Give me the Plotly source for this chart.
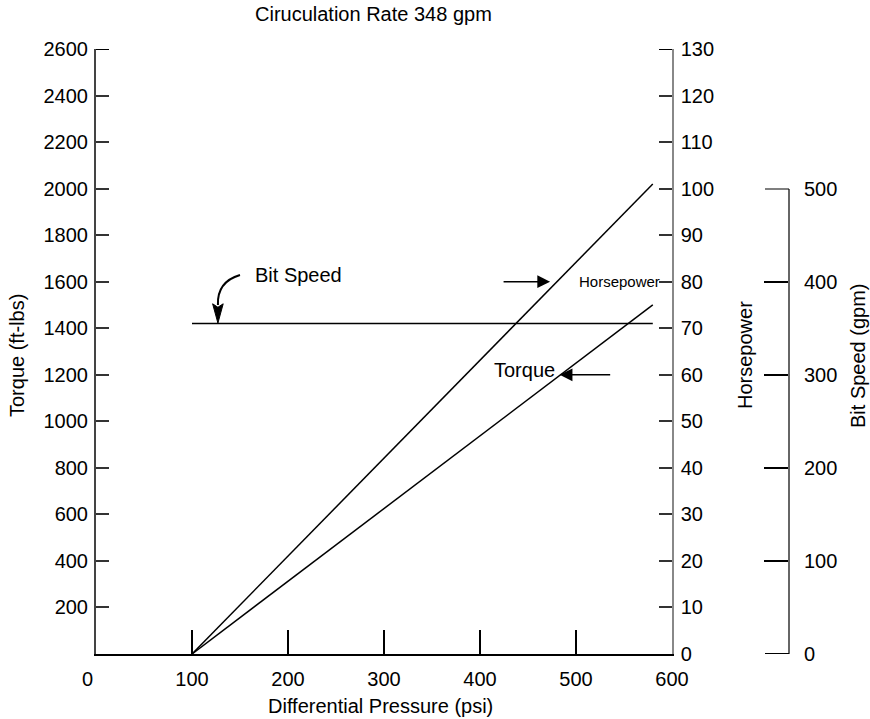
import plotly.graph_objects as go

# Operating curves vs differential pressure
pressure = [100, 580]          # psi
torque = [0, 1500]             # ft-lbs
horsepower = [0, 101]          # hp
bit_speed = [355, 355]         # gpm

torque_ticks = [200, 400, 600, 800, 1000, 1200, 1400, 1600, 1800, 2000, 2200, 2400, 2600]
hp_ticks = [0, 10, 20, 30, 40, 50, 60, 70, 80, 90, 100, 110, 120, 130]
speed_ticks = [0, 100, 200, 300, 400, 500]
pressure_ticks = [0, 100, 200, 300, 400, 500, 600]
pressure_labels = ["0\u00a0\u00a0\u00a0", "100", "200", "300", "400", "500", "600"]

FONT = "Liberation Sans, Arial, Helvetica, sans-serif"
FS = 20
W, H = 870, 719
ML, MR, MT, MB = 96, 40, 49, 65
PW = W - ML - MR
X_END = 576 / PW
Y3_POS = 693 / PW
PX_PER_PSI = 576 / 600

fig = go.Figure()
fig.add_trace(go.Scatter(x=pressure, y=torque, mode="lines",
                         line=dict(color="black", width=1.5), yaxis="y"))
fig.add_trace(go.Scatter(x=pressure, y=horsepower, mode="lines",
                         line=dict(color="black", width=1.5), yaxis="y2"))
fig.add_trace(go.Scatter(x=pressure, y=bit_speed, mode="lines",
                         line=dict(color="black", width=1.5), yaxis="y3"))

tickfont = dict(family=FONT, size=FS, color="black")

fig.update_layout(
    width=W, height=H,
    margin=dict(l=ML, r=MR, t=MT, b=MB),
    paper_bgcolor="white", plot_bgcolor="rgba(0,0,0,0)",
    showlegend=False,
    font=dict(family=FONT, color="black"),
    xaxis=dict(
        domain=[0, X_END], range=[0, 600],
        tickvals=pressure_ticks, ticktext=pressure_labels, ticks="inside",
        ticklen=24, tickwidth=1.5, tickcolor="black", showline=True,
        linecolor="black", linewidth=2, showgrid=False, zeroline=False,
        tickfont=tickfont, ticklabelstandoff=6, anchor="y",
    ),
    yaxis=dict(
        range=[0, 2600], tickvals=torque_ticks, ticks="inside", ticklen=13,
        tickwidth=1.5, tickcolor="#333", showline=True, linecolor="#444",
        linewidth=2, showgrid=False, zeroline=False, tickfont=tickfont,
        ticklabelstandoff=2,
    ),
    yaxis2=dict(
        range=[0, 130], tickvals=hp_ticks, ticks="inside", ticklen=13,
        tickwidth=1.5, tickcolor="#333", showline=True, linecolor="#888",
        linewidth=1.5, showgrid=False, zeroline=False, tickfont=tickfont,
        overlaying="y", side="right", anchor="x", ticklabelstandoff=3,
    ),
    yaxis3=dict(
        domain=[0, 500 / 650], range=[0, 500], tickvals=speed_ticks,
        ticks="inside", ticklen=24, tickwidth=1.5, tickcolor="black",
        showline=True, linecolor="#666", linewidth=2, showgrid=False,
        zeroline=False, tickfont=tickfont, side="right", anchor="free",
        position=Y3_POS, ticklabelstandoff=10,
    ),
)

# Inside ticks that sit at the ends of an axis range are dropped by plotly;
# draw those end ticks explicitly.
tick_line = dict(color="black", width=2)
fig.add_shape(type="line", xref="x", yref="y", x0=0, x1=13 / PX_PER_PSI,
              y0=torque_ticks[-1], y1=torque_ticks[-1], line=tick_line)
fig.add_shape(type="line", xref="x", yref="y2", x0=600 - 13 / PX_PER_PSI, x1=600,
              y0=hp_ticks[-1], y1=hp_ticks[-1], line=tick_line)
for v in (speed_ticks[0], speed_ticks[-1]):
    fig.add_shape(type="line", xref="paper", yref="y3",
                  x0=Y3_POS - 24 / PW, x1=Y3_POS, y0=v, y1=v, line=tick_line)

# Axis titles
titles = [
    dict(text="Torque (ft-lbs)", x=17, y=356, angle=-90),
    dict(text="Horsepower", x=745, y=355, angle=-90),
    dict(text="Bit Speed (gpm)", x=858, y=355, angle=-90),
    dict(text="Differential Pressure (psi)", x=380, y=706, angle=0),
    dict(text="Ciruculation Rate 348 gpm", x=373, y=14, angle=0),
]
for t in titles:
    fig.add_annotation(
        text=t["text"], xref="paper", yref="paper",
        x=(t["x"] - ML) / PW, y=(H - MB - t["y"]) / (H - MT - MB),
        xanchor="center", yanchor="middle", textangle=t["angle"],
        showarrow=False, font=dict(family=FONT, size=FS, color="black"),
    )

# Callout labels with arrows
fig.add_annotation(text="Bit Speed", x=(253 - 96) / PX_PER_PSI, y=1629, xref="x", yref="y",
                   xanchor="left", yanchor="middle", showarrow=False,
                   font=dict(family=FONT, size=FS, color="black"))
fig.add_annotation(text="Horsepower", x=(577 - 96) / PX_PER_PSI, y=1600, xref="x", yref="y",
                   xanchor="left", yanchor="middle", showarrow=False,
                   font=dict(family=FONT, size=15, color="black"))
fig.add_annotation(text="Torque", x=(492 - 96) / PX_PER_PSI, y=1220, xref="x", yref="y",
                   xanchor="left", yanchor="middle", showarrow=False,
                   font=dict(family=FONT, size=FS, color="black"))

fig.add_annotation(x=473, y=1600, xref="x", yref="y", ax=-48, ay=0, text="",
                   showarrow=True, arrowhead=2, arrowsize=1.7, arrowwidth=1.5,
                   arrowcolor="black")
fig.add_annotation(x=483, y=1200, xref="x", yref="y", ax=52, ay=0, text="",
                   showarrow=True, arrowhead=2, arrowsize=1.7, arrowwidth=1.5,
                   arrowcolor="black")

# Curved arrow pointing to the bit speed line
fig.add_shape(type="path", xref="x", yref="y",
              path="M 150 1629 Q 126 1600 127 1500",
              line=dict(color="black", width=2))
fig.add_shape(type="path", xref="x", yref="y",
              path="M 121.5 1505 L 127 1422 L 132.5 1505 L 127 1490 Z",
              fillcolor="black", line=dict(color="black", width=1))

fig.write_html("out.html")
